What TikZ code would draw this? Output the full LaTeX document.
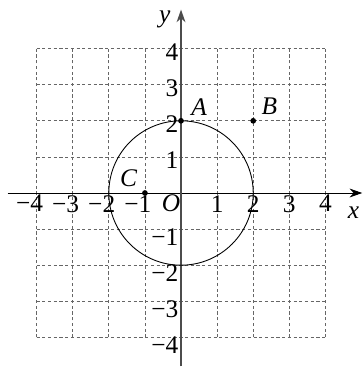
\documentclass[tikz,border=0pt]{standalone}
\usepackage{fontspec}
\setmainfont{Liberation Serif}
\usetikzlibrary{arrows.meta}
\begin{document}
\begin{tikzpicture}[
  font=\fontsize{20}{24}\selectfont,
  gridline/.style={dashed,gray!80!black,line width=0.5pt,dash pattern=on 2.5pt off 2pt},
  axis/.style={line width=0.7pt,-{Stealth[length=10pt,width=7pt]}},
  dot/.style={circle,fill=black,inner sep=0pt,minimum size=4.5pt},
  lbl/.style={inner sep=1pt}
]
\useasboundingbox (-5.014,-4.875) rectangle (5.04,5.346);
% grid
\foreach \i in {-4,...,4} {
  \draw[gridline] (\i,-4) -- (\i,4);
  \draw[gridline] (-4,\i) -- (4,\i);
}
% axes
\coordinate (xs) at (-4.8,0);
\coordinate (xe) at (5.02,0);
\coordinate (ys) at (0,-4.8);
\coordinate (ye) at (0,5.08);
\draw[axis] (xs) -- (xe);
\draw[axis,gray!60!black,line width=1.1pt] (ys) -- (ye);
\node[lbl] (xl) at (4.78,-0.55) {\itshape x};
\node[lbl] (yl) at (-0.45,4.82) {\itshape y};
\node[lbl,anchor=north east] (O) at (0.02,0.0) {\itshape O};
% x ticks
\foreach \i in {4,3,2,1} {
  \node[lbl,anchor=north east] (xtm\i) at (-\i+0.22,-0.02) {−\i};
}
\foreach \i in {1,2,3,4} {
  \node[lbl,anchor=north] (xt\i) at (\i,-0.02) {\i};
}
% y ticks
\foreach \i in {1,2,3,4} {
  \node[lbl,anchor=east] (yt\i) at (-0.03,\i-0.1) {\i};
}
\foreach \i in {1,2,3,4} {
  \node[lbl,anchor=east] (ytm\i) at (-0.03,-\i-0.22) {−\i};
}
% circle
\node[draw,circle,minimum size=4cm,inner sep=0pt,line width=0.7pt] (circ) at (0,0) {};
% points
\node[dot] (A) at (0,2) {};
\node[dot] (B) at (2,2) {};
\node[dot] (C) at (-1,0) {};
\node[lbl] (Al) at (0.5,2.38) {\itshape A};
\node[lbl] (Bl) at (2.45,2.4) {\itshape B};
\node[lbl] (Cl) at (-1.45,0.4) {\itshape C};
\end{tikzpicture}
\end{document}
